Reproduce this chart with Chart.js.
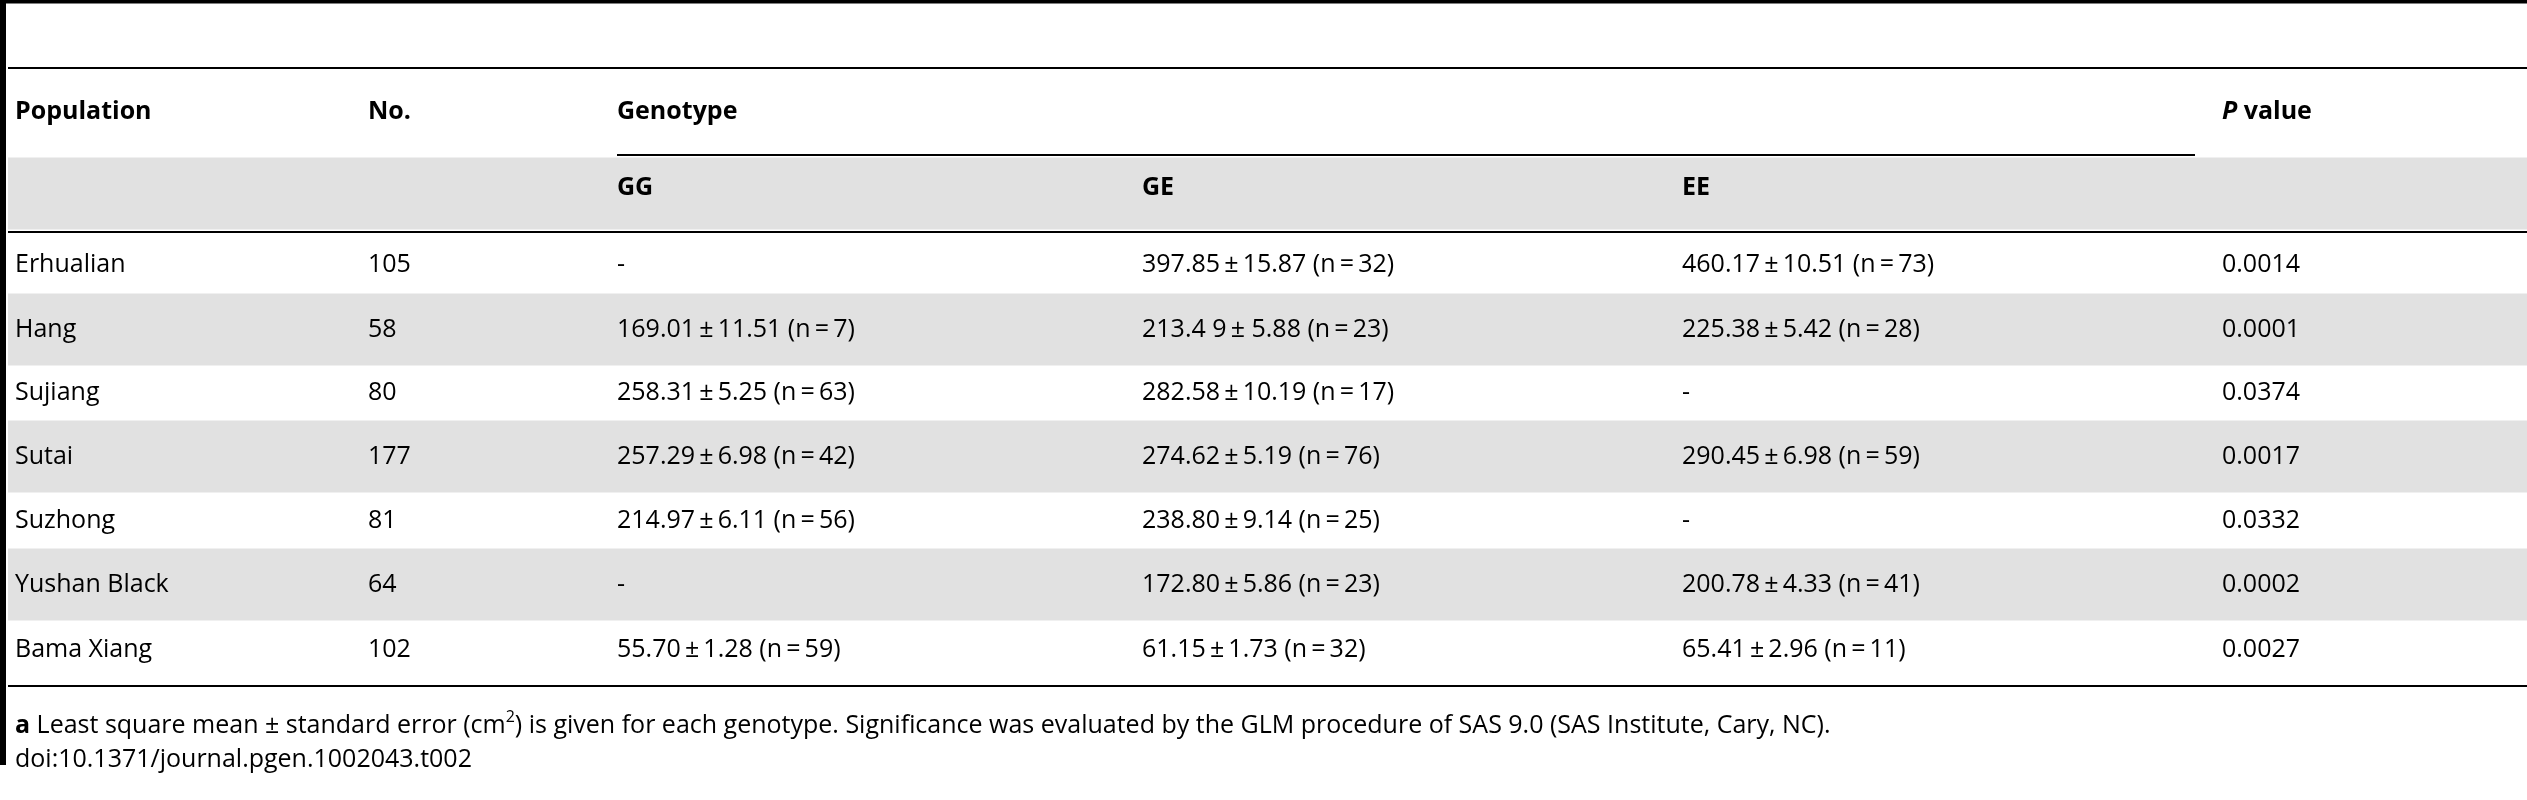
<!DOCTYPE html><html><head><meta charset="utf-8">
<script src="https://cdn.jsdelivr.net/npm/chart.js@4"></script>
<style>html,body{margin:0;padding:0;background:#fff}#w{width:2527px;height:800px}</style></head>
<body><div id="w"><canvas id="c"></canvas></div>
<script>
const populations=["Erhualian","Hang","Sujiang","Sutai","Suzhong","Yushan Black","Bama Xiang"];
const counts=["105","58","80","177","81","64","102"];
const gg=["-","169.01\u2009\u00b1\u200911.51 (n\u2009=\u20097)","258.31\u2009\u00b1\u20095.25 (n\u2009=\u200963)","257.29\u2009\u00b1\u20096.98 (n\u2009=\u200942)","214.97\u2009\u00b1\u20096.11 (n\u2009=\u200956)","-","55.70\u2009\u00b1\u20091.28 (n\u2009=\u200959)"];
const ge=["397.85\u2009\u00b1\u200915.87 (n\u2009=\u200932)","213.4 9\u2009\u00b1 5.88 (n\u2009=\u200923)","282.58\u2009\u00b1\u200910.19 (n\u2009=\u200917)","274.62\u2009\u00b1\u20095.19 (n\u2009=\u200976)","238.80\u2009\u00b1\u20099.14 (n\u2009=\u200925)","172.80\u2009\u00b1\u20095.86 (n\u2009=\u200923)","61.15\u2009\u00b1\u20091.73 (n\u2009=\u200932)"];
const ee=["460.17\u2009\u00b1\u200910.51 (n\u2009=\u200973)","225.38\u2009\u00b1\u20095.42 (n\u2009=\u200928)","-","290.45\u2009\u00b1\u20096.98 (n\u2009=\u200959)","-","200.78\u2009\u00b1\u20094.33 (n\u2009=\u200941)","65.41\u2009\u00b1\u20092.96 (n\u2009=\u200911)"];
const pvalues=["0.0014","0.0001","0.0374","0.0017","0.0332","0.0002","0.0027"];
const rowY=[265,330,393,457,521,585,650];
const colX=[15,368,617,1142,1682,2222];
const F='"Open Sans", sans-serif';
const shadedRows=[{y:[157,230]}].concat(rowY.filter((v,i)=>i%2==1).map(v=>({y:[v-32,v+31]})));
const tablePlugin={id:'table',afterDatasetsDraw(ch){
 const c=ch.ctx,X=ch.scales.x,Y=ch.scales.y;
 const px=v=>X.getPixelForValue(v),py=v=>Y.getPixelForValue(v);
 c.save();c.fillStyle='#000';c.strokeStyle='#000';
 const line=(x1,x2,y,w)=>{c.fillRect(px(x1),py(y)-w/2,px(x2)-px(x1),w);};
 line(0,2527,1.5,4); c.fillRect(px(0),py(0),6,py(765)-py(0));
 line(8,2527,68,2); line(617,2195,155,2); line(8,2527,232,2); line(8,2527,686,2);
 c.textBaseline='middle';
 c.font='bold 25px '+F;
 c.fillText('Population',px(colX[0]),py(112));c.fillText('No.',px(colX[1]),py(112));
 c.fillText('Genotype',px(colX[2]),py(112));
 c.font='bold italic 25px '+F;c.fillText('P',px(colX[5]),py(112));
 let w=c.measureText('P ').width;c.font='bold 25px '+F;c.fillText('value',px(colX[5])+w,py(112));
 c.fillText('GG',px(colX[2]),py(188));c.fillText('GE',px(colX[3]),py(188));c.fillText('EE',px(colX[4]),py(188));
 c.font='25px '+F;
 rowY.forEach((y,i)=>{[populations,counts,gg,ge,ee,pvalues].forEach((a,j)=>c.fillText(a[i],px(colX[j]),py(y)));});
 let x=px(15),y=py(726);
 c.font='bold 25px '+F;c.fillText('a',x,y);x+=c.measureText('a ').width;
 c.font='25px '+F;let t='Least square mean \u00b1 standard error (cm';c.fillText(t,x,y);x+=c.measureText(t).width;
 c.font='16px '+F;c.fillText('2',x,y-9);x+=c.measureText('2').width;
 c.font='25px '+F;c.fillText(') is given for each genotype. Significance was evaluated by the GLM procedure of SAS 9.0 (SAS Institute, Cary, NC).',x,y);
 c.fillText('doi:10.1371/journal.pgen.1002043.t002',px(15),py(760));
 c.restore();}};
new Chart(document.getElementById('c'),{type:'bar',
 data:{datasets:[{data:shadedRows.map(r=>({x:[8,2527],y:(r.y[0]+r.y[1])/2,h:r.y[1]-r.y[0]})),backgroundColor:'#e1e1e1',borderWidth:0,barThickness:ctx=>ctx.raw?ctx.raw.h:0,grouped:false}]},
 options:{indexAxis:'y',responsive:true,maintainAspectRatio:false,animation:false,
  layout:{padding:0},plugins:{legend:{display:false},tooltip:{enabled:false}},
  scales:{x:{type:'linear',min:0,max:2527,display:false,offset:false},y:{type:'linear',min:0,max:800,reverse:true,display:false,offset:false}}},
 plugins:[tablePlugin]});
</script></body></html>
